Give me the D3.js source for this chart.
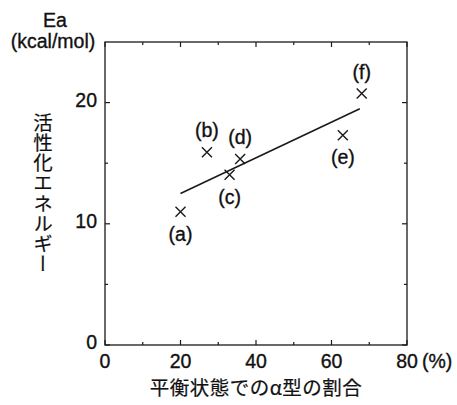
<!DOCTYPE html>
<html>
<head>
<meta charset="utf-8">
<script src="https://cdn.jsdelivr.net/npm/d3@7"></script>
<style>
  body { margin: 0; background: #fff; }
  text { font-family: "Liberation Sans", Arial, sans-serif; fill: #111; stroke: #111; stroke-width: 0.35px; }
  .jp { font-family: "Noto Sans CJK JP", sans-serif; stroke-width: 0.2px; }
</style>
</head>
<body>
<div id="chart"></div>
<script>
// data
const labels = ["(a)", "(b)", "(c)", "(d)", "(e)", "(f)"];
const alphaRatio = [20, 27, 33, 35.8, 63, 68];
const activation = [11.0, 15.9, 14.05, 15.35, 17.3, 20.75];
const labelSide = ["below", "above", "below", "above", "below", "above"];
const fitX = [20, 67.5];
const fitY = [12.5, 19.5];
const xTicks = [0, 20, 40, 60, 80];
const yTicks = [0, 10, 20];

const width = 457, height = 405;
const margin = {left: 105, top: 42, right: 50, bottom: 60};

const svg = d3.select("#chart").append("svg")
    .attr("width", width)
    .attr("height", height);

const x = d3.scaleLinear().domain([0, 80]).range([margin.left, width - margin.right]);
const y = d3.scaleLinear().domain([0, 25]).range([height - margin.bottom, margin.top]);

const x0 = x.range()[0], x1 = x.range()[1];
const y0 = y.range()[0], y1 = y.range()[1];

//frame
svg.append("rect")
    .attr("x", x0).attr("y", y1)
    .attr("width", x1 - x0).attr("height", y0 - y1)
    .attr("fill", "none")
    .attr("stroke", "#1a1a1a")
    .attr("stroke-width", 1.3);

//ticks (inward, all four sides)
const xMinor = d3.range(10, 80, 20);
const yMinor = d3.range(5, 25, 10);
function tickLines(vals, len, horiz) {
    vals.forEach(v => {
        if (horiz) {
            svg.append("line").attr("x1", x(v)).attr("x2", x(v)).attr("y1", y0).attr("y2", y0 - len);
            svg.append("line").attr("x1", x(v)).attr("x2", x(v)).attr("y1", y1).attr("y2", y1 + len);
        } else {
            svg.append("line").attr("y1", y(v)).attr("y2", y(v)).attr("x1", x0).attr("x2", x0 + len);
            svg.append("line").attr("y1", y(v)).attr("y2", y(v)).attr("x1", x1).attr("x2", x1 - len);
        }
    });
}
tickLines(xTicks, 5, true);
tickLines(xMinor, 3, true);
tickLines(yTicks, 5, false);
tickLines(yMinor, 3, false);
svg.selectAll("line").attr("stroke", "#1a1a1a").attr("stroke-width", 1.2);

//tick labels
svg.selectAll(".xlab")
    .data(xTicks)
    .enter()
    .append("text")
    .attr("x", d => x(d))
    .attr("y", y0 + 23)
    .attr("text-anchor", "middle")
    .style("font-size", "19.5px")
    .text(d => d);

svg.append("text")
    .attr("x", x(80) + 15)
    .attr("y", y0 + 23)
    .style("font-size", "19.5px")
    .text("(%)");

svg.selectAll(".ylab")
    .data(yTicks)
    .enter()
    .append("text")
    .attr("x", x0 - 8)
    .attr("y", d => y(d) + 4)
    .attr("text-anchor", "end")
    .style("font-size", "19.5px")
    .text(d => d);

//axis titles
svg.append("text")
    .attr("x", 55).attr("y", 27)
    .attr("text-anchor", "middle")
    .style("font-size", "19.5px")
    .text("Ea");
svg.append("text")
    .attr("x", 53).attr("y", 48)
    .attr("text-anchor", "middle")
    .style("font-size", "19.5px")
    .text("(kcal/mol)");

svg.append("text")
    .attr("class", "jp")
    .attr("x", 43).attr("y", 113)
    .attr("writing-mode", "tb")
    .style("writing-mode", "vertical-rl")
    .style("letter-spacing", "0.6px")
    .style("font-size", "19.5px")
    .text("活性化エネルギー");

svg.append("text")
    .attr("class", "jp")
    .attr("x", (x0 + x1) / 2).attr("y", 395)
    .attr("text-anchor", "middle")
    .style("letter-spacing", "0.5px")
    .style("font-size", "19.5px")
    .text("平衡状態でのα型の割合");

//regression line
svg.append("line")
    .attr("x1", x(fitX[0])).attr("y1", y(fitY[0]))
    .attr("x2", x(fitX[1])).attr("y2", y(fitY[1]))
    .attr("stroke", "#1a1a1a")
    .attr("stroke-width", 1.6);

//cross markers
const s = 5;
const pts = labels.map((l, i) => ({l: l, x: alphaRatio[i], y: activation[i], side: labelSide[i]}));
const g = svg.append("g");
pts.forEach(d => {
    g.append("path")
        .attr("d", `M${x(d.x) - s},${y(d.y) - s}L${x(d.x) + s},${y(d.y) + s}M${x(d.x) - s},${y(d.y) + s}L${x(d.x) + s},${y(d.y) - s}`)
        .attr("stroke", "#1a1a1a")
        .attr("stroke-width", 1.4)
        .attr("fill", "none");
    g.append("text")
        .attr("x", x(d.x))
        .attr("y", d.side == "above" ? y(d.y) - 15 : y(d.y) + 29)
        .attr("text-anchor", "middle")
        .style("font-size", "19.5px")
        .text(d.l);
});
</script>
</body>
</html>
